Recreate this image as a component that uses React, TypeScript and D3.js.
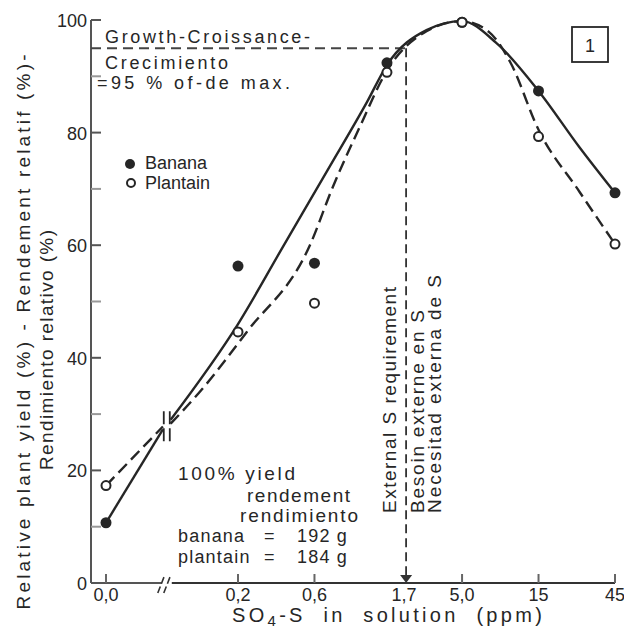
import * as d3 from "d3";

// treatments (ppm SO4-S) and measured relative yields
const treatments = [0, 0.2, 0.6, 1.7, 5, 15, 45];
const bananaYield = [10.7, 56.3, 56.8, 92.4, 99.6, 87.4, 69.3];
const plantainYield = [17.3, 44.6, 49.7, 90.7, 99.6, 79.3, 60.2];

// hand-fitted curves: [ppm, % yield]
const bananaFitLow: [number, number][] = [[0, 10.7], [0.068, 27.3]];
const bananaFit: [number, number][] = [
  [0.076, 29], [0.2, 46], [0.39, 60.2], [0.72, 73.2], [1.28, 85.5],
  [1.7, 92], [3, 98.2], [5, 99.8], [8.2, 95.9], [15, 87.4], [27, 77.4], [45, 69.3],
];
const plantainFitLow: [number, number][] = [[0, 17.3], [0.068, 27.8]];
const plantainFit: [number, number][] = [
  [0.076, 28.3], [0.12, 34.5], [0.227, 44.6], [0.56, 59.9], [0.78, 70.3], [1.15, 81],
  [1.7, 91], [3, 98], [5, 99.8], [7.35, 97.9], [10, 92.5], [15, 80.5], [27, 69.5], [45, 60.2],
];

const xTicks = [0, 0.2, 0.6, 5, 15, 45];
const xTickLabels = ["0,0", "0,2", "0,6", "5,0", "15", "45"];
const yTicks = [0, 20, 40, 60, 80, 100];
const yMinorTicks = [10, 30, 50, 70, 90];

const critical = 95;
const criticalLabel = "1,7";
const breakLow = 0.068;
const breakHigh = 0.076;

const font = "'Liberation Sans', Arial, sans-serif";
const ink = "#262626";

export default function App() {
  const width = 624;
  const height = 630;
  const axisX = 91;
  const zeroX = 106;

  const y = d3.scaleLinear([0, 100], [583, 20]);
  const xl = d3.scaleLog([0.2, 45], [238, 615]);
  const x = (c: number) => (c === 0 ? zeroX : xl(c));

  const line = d3
    .line<[number, number]>()
    .x((d) => x(d[0]))
    .y((d) => y(d[1]))
    .curve(d3.curveMonotoneX);
  const straight = d3
    .line<[number, number]>()
    .x((d) => x(d[0]))
    .y((d) => y(d[1]));

  // where the banana curve reaches 95 %
  const i = bananaFit.findIndex((d) => d[1] >= critical);
  const [c0, v0] = bananaFit[i - 1];
  const [c1, v1] = bananaFit[i];
  const t = (critical - v0) / (v1 - v0);
  const reqC = Math.exp(Math.log(c0) + t * (Math.log(c1) - Math.log(c0)));
  const reqX = xl(reqC);

  const breakX = (xl(breakLow) + xl(breakHigh)) / 2;

  const txt = { fontFamily: font, fill: ink } as const;

  return (
    <svg
      width={width}
      height={height}
      style={{ position: "absolute", left: 0, top: 0, background: "#fff" }}
    >
      {/* y axis */}
      <line x1={axisX} x2={axisX} y1={y(100)} y2={y(0)} stroke="#555" strokeWidth={2} />
      {yTicks.map((v) => (
        <g key={v}>
          <line x1={axisX} x2={axisX + 10} y1={y(v)} y2={y(v)} stroke="#555" strokeWidth={2} />
          <text x={87} y={y(v) + 7} textAnchor="end" fontSize={18} {...txt}>
            {v}
          </text>
        </g>
      ))}
      {yMinorTicks.map((v) => (
        <line key={v} x1={axisX} x2={axisX + 10} y1={y(v)} y2={y(v)} stroke="#999" strokeWidth={2} />
      ))}

      {/* x axis with break */}
      <line x1={axisX} x2={breakX - 5} y1={y(0)} y2={y(0)} stroke="#555" strokeWidth={2} />
      <line x1={breakX + 5} x2={xl(45)} y1={y(0)} y2={y(0)} stroke="#333" strokeWidth={2} />
      {[-3, 3].map((dx) => (
        <line
          key={dx}
          x1={breakX + dx - 6}
          x2={breakX + dx + 1}
          y1={y(0) + 10}
          y2={y(0) - 8}
          stroke="#333"
          strokeWidth={1.6}
          strokeDasharray="7 3"
        />
      ))}
      {xTicks.map((c, k) => (
        <g key={c}>
          <line x1={x(c)} x2={x(c)} y1={y(0)} y2={y(0) - 9} stroke="#666" strokeWidth={2} />
          <text x={x(c)} y={601} textAnchor="middle" fontSize={18} {...txt}>
            {xTickLabels[k]}
          </text>
        </g>
      ))}
      <text x={reqX - 2} y={601} textAnchor="middle" fontSize={18} {...txt}>
        {criticalLabel}
      </text>
      <path
        d={`M${reqX - 6},${y(0) - 8}L${reqX + 6},${y(0) - 8}L${reqX},${y(0)}Z`}
        fill="#333"
      />
      <text x={232} y={622} fontSize={20} letterSpacing={3.3} xmlSpace="preserve" {...txt}>
        <tspan>SO</tspan>
        <tspan dy={4} fontSize={15}>4</tspan>
        <tspan dy={-4}>-S  in  solution  (ppm)</tspan>
      </text>

      {/* y title */}
      <text
        transform={`translate(30,332) rotate(-90)`}
        textAnchor="middle"
        fontSize={19}
        textLength={555}
        lengthAdjust="spacing"
        {...txt}
      >
        Relative plant yield (%) - Rendement relatif (%)-
      </text>
      <text
        transform={`translate(53,350) rotate(-90)`}
        textAnchor="middle"
        fontSize={19}
        textLength={240}
        lengthAdjust="spacing"
        {...txt}
      >
        Rendimiento relativo (%)
      </text>

      {/* 95 % reference lines */}
      <line
        x1={axisX}
        x2={reqX}
        y1={y(critical)}
        y2={y(critical)}
        stroke="#444"
        strokeWidth={2}
        strokeDasharray="10 6"
      />
      <line
        x1={reqX}
        x2={reqX}
        y1={y(critical)}
        y2={y(0) - 8}
        stroke="#333"
        strokeWidth={1.8}
        strokeDasharray="9 5"
      />

      {/* fitted curves */}
      <path d={straight(bananaFitLow)!} fill="none" stroke={ink} strokeWidth={2.4} />
      <path
        d={straight(plantainFitLow)!}
        fill="none"
        stroke={ink}
        strokeWidth={2.4}
        strokeDasharray="12 6"
      />
      {[-3, 3].map((dx) => (
        <line
          key={dx}
          x1={breakX + dx}
          x2={breakX + dx}
          y1={y(30.5)}
          y2={y(24.8)}
          stroke={ink}
          strokeWidth={1.8}
          strokeDasharray="13 4"
        />
      ))}
      <path d={line(bananaFit)!} fill="none" stroke={ink} strokeWidth={2.4} />
      <path
        d={line(plantainFit)!}
        fill="none"
        stroke={ink}
        strokeWidth={2.4}
        strokeDasharray="12 6"
      />

      {/* observations */}
      {treatments.map((c, k) => (
        <circle key={"b" + c} cx={x(c)} cy={y(bananaYield[k])} r={5.5} fill={ink} />
      ))}
      {treatments.map((c, k) => (
        <circle
          key={"p" + c}
          cx={x(c)}
          cy={y(plantainYield[k])}
          r={4.5}
          fill="#fff"
          stroke={ink}
          strokeWidth={2}
        />
      ))}

      {/* annotations */}
      <text x={105} y={43} fontSize={18} textLength={205} lengthAdjust="spacing" {...txt}>
        Growth-Croissance-
      </text>
      <text x={105} y={69} fontSize={18} textLength={123} lengthAdjust="spacing" {...txt}>
        Crecimiento
      </text>
      <text x={97} y={89} fontSize={18} textLength={193} lengthAdjust="spacing" {...txt}>
        =95 % of-de  max.
      </text>

      <circle cx={130} cy={164} r={5} fill={ink} />
      <text x={145} y={169} fontSize={18} {...txt}>Banana</text>
      <circle cx={131} cy={183} r={4} fill="#fff" stroke={ink} strokeWidth={2} />
      <text x={145} y={189} fontSize={18} {...txt}>Plantain</text>

      <rect x={572} y={27} width={36} height={35} fill="none" stroke={ink} strokeWidth={1.8} />
      <text x={590} y={52} textAnchor="middle" fontSize={18} {...txt}>1</text>

      <text x={178} y={480} fontSize={19} textLength={117} lengthAdjust="spacing" {...txt}>
        100% yield
      </text>
      <text x={247} y={502} fontSize={19} textLength={103} lengthAdjust="spacing" {...txt}>
        rendement
      </text>
      <text x={240} y={522} fontSize={19} textLength={118} lengthAdjust="spacing" {...txt}>
        rendimiento
      </text>
      <text x={178} y={542} fontSize={18} letterSpacing={1.2} {...txt}>
        <tspan>banana</tspan>
        <tspan x={264}>=</tspan>
        <tspan x={297}>192 g</tspan>
      </text>
      <text x={178} y={563} fontSize={18} letterSpacing={1.2} {...txt}>
        <tspan>plantain</tspan>
        <tspan x={264}>=</tspan>
        <tspan x={297}>184 g</tspan>
      </text>

      <text
        transform={`translate(396,513) rotate(-90)`}
        fontSize={19}
        textLength={226}
        lengthAdjust="spacing"
        {...txt}
      >
        External S requirement
      </text>
      <text
        transform={`translate(424,513) rotate(-90)`}
        fontSize={19}
        textLength={203}
        lengthAdjust="spacing"
        {...txt}
      >
        Besoin externe en S
      </text>
      <text
        transform={`translate(441,513) rotate(-90)`}
        fontSize={19}
        textLength={238}
        lengthAdjust="spacing"
        {...txt}
      >
        Necesitad externa de S
      </text>
    </svg>
  );
}
